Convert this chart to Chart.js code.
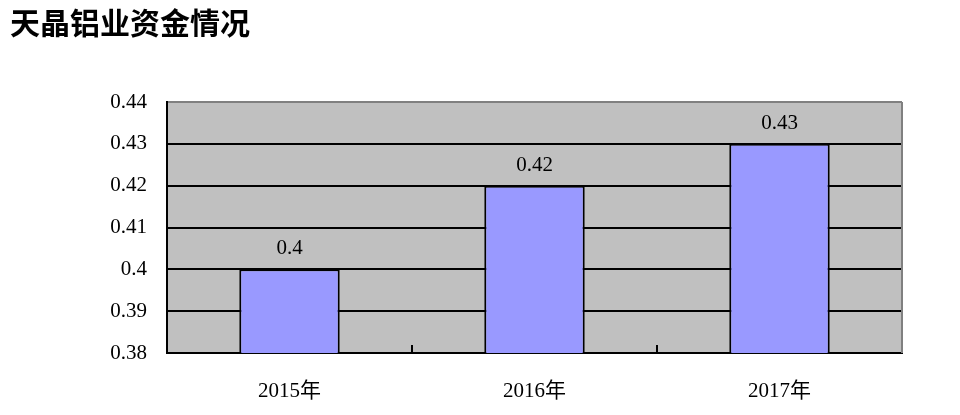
<!DOCTYPE html>
<html>
<head>
<meta charset="utf-8">
<script src="https://cdn.jsdelivr.net/npm/chart.js@4.4.0/dist/chart.umd.min.js"></script>
<style>
  html, body { margin: 0; padding: 0; background: #fff; }
  #box { width: 960px; height: 415px; }
</style>
</head>
<body>
<div id="box"><canvas id="grafico"></canvas></div>
<script>
const titulo = "天晶铝业资金情况";
const anos = ["2015年", "2016年", "2017年"];
const valores = [0.4, 0.42, 0.43];
const eixoMin = 0.38;
const eixoMax = 0.44;
const passo = 0.01;

const fonteSerif = "'Liberation Serif', 'Noto Sans CJK SC', serif";

// fundo cinza, borda direita e marcas do eixo x
const fundoPlugin = {
  id: "fundo",
  beforeDraw(chart) {
    const { ctx, chartArea: a } = chart;
    ctx.save();
    ctx.fillStyle = "#C0C0C0";
    ctx.fillRect(a.left, a.top, a.right - a.left, a.bottom - a.top);
    ctx.restore();
  },
  afterDatasetsDraw(chart) {
    const { ctx, chartArea: a, scales } = chart;
    ctx.save();
    ctx.strokeStyle = "#808080";
    ctx.lineWidth = 2;
    ctx.beginPath();
    ctx.moveTo(a.right, a.top);
    ctx.lineTo(a.right, a.bottom);
    ctx.stroke();
    // marcas entre categorias
    const x = scales.x;
    ctx.strokeStyle = "#000";
    ctx.lineWidth = 2;
    for (let i = 1; i < anos.length; i++) {
      const px = (x.getPixelForValue(i - 1) + x.getPixelForValue(i)) / 2;
      ctx.beginPath();
      ctx.moveTo(px, a.bottom);
      ctx.lineTo(px, a.bottom - 8);
      ctx.stroke();
    }
    // rótulos dos valores
    ctx.fillStyle = "#000";
    ctx.font = "21px " + fonteSerif;
    ctx.textAlign = "center";
    ctx.textBaseline = "bottom";
    chart.getDatasetMeta(0).data.forEach((bar, i) => {
      ctx.fillText(String(valores[i]), bar.x, bar.y - 10);
    });
    ctx.restore();
  },
};

new Chart(document.getElementById("grafico"), {
  type: "bar",
  data: {
    labels: anos,
    datasets: [
      {
        data: valores,
        backgroundColor: "#9999FF",
        borderColor: "#000000",
        borderWidth: 2,
        borderSkipped: "bottom",
        barPercentage: 0.41,
        categoryPercentage: 1,
      },
    ],
  },
  options: {
    responsive: true,
    maintainAspectRatio: false,
    animation: false,
    layout: { padding: { left: 10, right: 58, top: 0, bottom: 0 } },
    plugins: {
      legend: { display: false },
      tooltip: { enabled: false },
      title: {
        display: true,
        text: titulo,
        align: "start",
        color: "#000",
        font: { family: "'Noto Sans CJK SC', sans-serif", size: 30, weight: "bold" },
        padding: { top: 5, bottom: 61 },
      },
    },
    scales: {
      y: {
        min: eixoMin,
        max: eixoMax,
        afterFit: (scale) => { scale.width = 157; },
        ticks: {
          stepSize: passo,
          color: "#000",
          padding: 20,
          font: { family: fonteSerif, size: 21 },
          callback: (v) => String(Number(Number(v).toFixed(2))),
        },
        grid: {
          drawTicks: false,
          lineWidth: 2,
          color: (c) => (c.index === Math.round((eixoMax - eixoMin) / passo) ? "#808080" : "#000"),
        },
        border: { color: "#000", width: 2 },
      },
      x: {
        afterFit: (scale) => { scale.height = 62; },
        ticks: {
          color: "#000",
          padding: 26,
          font: { family: fonteSerif, size: 21 },
        },
        grid: { display: false, drawTicks: false },
        border: { color: "#000", width: 2 },
      },
    },
  },
  plugins: [fundoPlugin],
});
</script>
</body>
</html>
